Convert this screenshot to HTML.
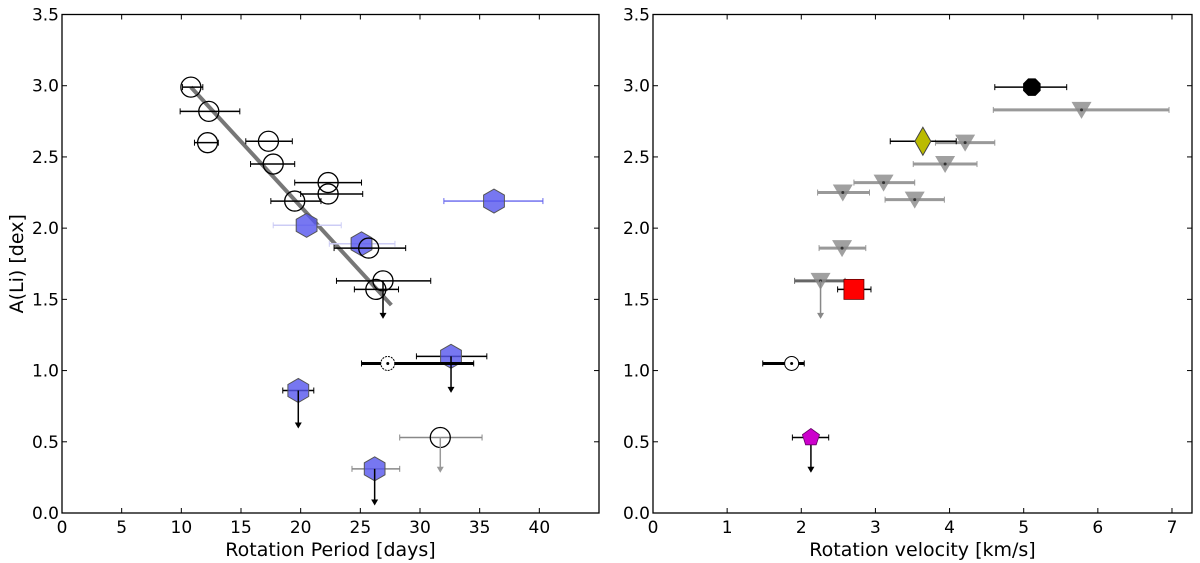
<!DOCTYPE html>
<html><head><meta charset="utf-8"><style>
body{margin:0;background:#fff;}
svg{display:block;font-family:"DejaVu Sans","Liberation Sans",sans-serif;}
</style></head><body>
<svg id="c" width="1200" height="563" viewBox="0 0 1200 563"></svg>
<script>
// Left panel data: open circles [period, ALi, xlo, xhi, limitTo]
const leftCircleP   = [10.8, 12.3, 12.2, 17.3, 17.7, 22.3, 22.3, 19.5, 25.7, 26.9, 26.3, 31.7];
const leftCircleA   = [2.99, 2.82, 2.60, 2.61, 2.45, 2.32, 2.24, 2.19, 1.86, 1.63, 1.57, 0.53];
const leftCircleLo  = [10.1, 9.9, 11.1, 15.4, 15.8, 19.5, 20.0, 17.5, 22.8, 23.0, 24.5, 28.3];
const leftCircleHi  = [11.8, 14.9, 13.1, 19.3, 19.5, 25.1, 25.2, 21.7, 28.8, 30.9, 28.2, 35.2];
const leftCircleLim = [null, null, null, null, null, null, null, null, null, 1.37, null, 0.29];
const leftHexP   = [36.2, 20.5, 25.1, 32.6, 19.8, 26.2];
const leftHexA   = [2.19, 2.02, 1.89, 1.10, 0.86, 0.31];
const leftHexLo  = [32.0, 17.7, 22.4, 29.7, 18.5, 24.3];
const leftHexHi  = [40.3, 23.4, 27.9, 35.6, 21.1, 28.3];
const leftHexLim = [null, null, null, 0.85, 0.60, 0.06];
const sunP = [27.3], sunA = [1.05], sunPLo = [25.1], sunPHi = [34.5];
const fitP = [10.8, 27.6], fitA = [2.99, 1.46];
const leftXTicks = [0,5,10,15,20,25,30,35,40];
const yTicks = [0,0.5,1,1.5,2,2.5,3,3.5];
// Right panel data
const triV  = [5.78, 4.21, 3.94, 3.11, 2.56, 3.53, 2.55, 2.26];
const triA  = [2.83, 2.60, 2.45, 2.32, 2.25, 2.20, 1.86, 1.63];
const triLo = [4.59, 3.81, 3.51, 2.71, 2.22, 3.13, 2.24, 1.91];
const triHi = [6.96, 4.61, 4.37, 3.53, 2.92, 3.93, 2.87, 2.59];
const triLim= [null,null,null,null,null,null,null,1.37];
const blackDot = [5.11, 2.99, 4.61, 5.58];
const diamond = [3.64, 2.61, 3.20, 4.09];
const square = [2.71, 1.57, 2.49, 2.94];
const sunV = [1.87, 1.05, 1.48, 2.04];
const pentagon = [2.13, 0.53, 1.88, 2.37, 0.29];
const rightXTicks = [0,1,2,3,4,5,6,7];

const svg = document.getElementById('c');
const NS = 'http://www.w3.org/2000/svg';
function el(tag, attrs, parent){const e=document.createElementNS(NS,tag);for(const k in attrs)e.setAttribute(k,attrs[k]);(parent||svg).appendChild(e);return e;}
const Y0=513, Y1=14.5;
function ys(v){return Y0-(v/3.5)*(Y0-Y1);}
function mkX(x0,x1,max){return v=>x0+(v/max)*(x1-x0);}
const xl = mkX(62,599,45);
const xr = mkX(653,1192,7.27);

function axes(x0,x1,xs,ticks,label,name,showY){
  const g=el('g',{});
   
  el('rect',{x:x0,y:Y1,width:x1-x0,height:Y0-Y1,fill:'none',stroke:'#000','stroke-width':1.3},g);
  ticks.forEach(t=>{const x=xs(t);
    el('line',{x1:x,x2:x,y1:Y0,y2:Y0-5,stroke:'#000'},g);
    el('line',{x1:x,x2:x,y1:Y1,y2:Y1+5,stroke:'#000'},g);
    const tx=el('text',{x:x,y:Y0+20,'font-size':17,'text-anchor':'middle'},g);tx.textContent=t;
    });
  yTicks.forEach(t=>{const y=ys(t);
    el('line',{x1:x0,x2:x0+5,y1:y,y2:y,stroke:'#000'},g);
    el('line',{x1:x1,x2:x1-5,y1:y,y2:y,stroke:'#000'},g);
    const tx=el('text',{x:x0-3,y:y+6,'font-size':17,'text-anchor':'end'},g);tx.textContent=t.toFixed(1);
    });
  const xt=el('text',{x:(x0+x1)/2,y:556,'font-size':19,'text-anchor':'middle'},g);xt.textContent=label;
  
  if(showY){const yt=el('text',{x:0,y:0,'font-size':19,'text-anchor':'middle',transform:`translate(23,${ys(1.75)}) rotate(-90)`},g);yt.textContent='A(Li) [dex]';
    }
}
function xerr(xs,lo,hi,y,col,w){
  const g=el('g',{});
  
  el('line',{x1:xs(lo),x2:xs(hi),y1:ys(y),y2:ys(y),stroke:col,'stroke-width':w},g);
  el('line',{x1:xs(lo),x2:xs(lo),y1:ys(y)-3,y2:ys(y)+3,stroke:col,'stroke-width':1},g);
  el('line',{x1:xs(hi),x2:xs(hi),y1:ys(y)-3,y2:ys(y)+3,stroke:col,'stroke-width':1},g);
}
function arrow(x,y,lim,col){
  const g=el('g',{});
  
  el('line',{x1:x,x2:x,y1:ys(y),y2:ys(lim)-4,stroke:col,'stroke-width':1.5},g);
  el('polygon',{points:`${x-3.5},${ys(lim)-5} ${x+3.5},${ys(lim)-5} ${x},${ys(lim)+1}`,fill:col},g);
}
function poly(cx,cy,r,n,rot){const p=[];for(let i=0;i<n;i++){const a=rot+i*2*Math.PI/n;p.push((cx+r*Math.cos(a)).toFixed(1)+','+(cy+r*Math.sin(a)).toFixed(1));}return p.join(' ');}

axes(62,599,xl,leftXTicks,'Rotation Period [days]','left-panel',true);
axes(653,1192,xr,rightXTicks,'Rotation velocity [km/s]','right-panel',false);

const fit=el('line',{x1:xl(fitP[0]),y1:ys(fitA[0]),x2:xl(fitP[1]),y2:ys(fitA[1]),stroke:'#777','stroke-width':4});

leftHexP.forEach((p,i)=>{
  const light = i===1||i===2;
  xerr(xl,leftHexLo[i],leftHexHi[i],leftHexA[i], i===0?'#6666ee':(light?'#ccccf5':(i===5?'#888':'#000')),i===0?1.3:1.5);
  const h=el('polygon',{points:poly(xl(p),ys(leftHexA[i]),12,6,Math.PI/6),fill:'#5555ee','fill-opacity':0.8,stroke:'#555','stroke-width':1});
  
  if(leftHexLim[i]!==null) arrow(xl(p),leftHexA[i],leftHexLim[i],'#000');
});
leftCircleP.forEach((p,i)=>{
  const grey = i===11;
  xerr(xl,leftCircleLo[i],leftCircleHi[i],leftCircleA[i],grey?'#888':'#000',1.5);
  const c=el('circle',{cx:xl(p),cy:ys(leftCircleA[i]),r:10,fill:'none',stroke:'#000','stroke-width':1.3});
  
  if(leftCircleLim[i]!==null) arrow(xl(p),leftCircleA[i],leftCircleLim[i],grey?'#999':'#000');
});
xerr(xl,sunPLo[0],sunPHi[0],sunA[0],'#000',3);
const s1=el('circle',{cx:xl(sunP[0]),cy:ys(sunA[0]),r:7,fill:'#fff',stroke:'#000','stroke-width':1,'stroke-dasharray':'2,1'});

el('circle',{cx:xl(sunP[0]),cy:ys(sunA[0]),r:1.5,fill:'#000'});

triV.forEach((v,i)=>{
  xerr(xr,triLo[i],triHi[i],triA[i],i===7?'#666':'#999',3);
  const x=xr(v),y=ys(triA[i]);
  const t=el('polygon',{points:`${x-10},${y-8} ${x+10},${y-8} ${x},${y+9}`,fill:'#888','fill-opacity':0.8});
  
  el('circle',{cx:x,cy:y,r:1.5,fill:'#333'});
  if(triLim[i]!==null) arrow(x,triA[i],triLim[i],'#888');
});
xerr(xr,blackDot[2],blackDot[3],blackDot[1],'#000',1.5);
const bd=el('polygon',{points:poly(xr(blackDot[0]),ys(blackDot[1]),9.5,8,Math.PI/8),fill:'#000'});

xerr(xr,diamond[2],diamond[3],diamond[1],'#000',1.5);
{const x=xr(diamond[0]),y=ys(diamond[1]);
const d=el('polygon',{points:`${x},${y-14} ${x+8},${y} ${x},${y+14} ${x-8},${y}`,fill:'#bbbb00',stroke:'#444','stroke-width':1});
}
xerr(xr,square[2],square[3],square[1],'#000',1.5);
{const x=xr(square[0]),y=ys(square[1]);
const q=el('rect',{x:x-10,y:y-10,width:20,height:20,fill:'#ff0000',stroke:'#600','stroke-width':0.8});
}
xerr(xr,sunV[2],sunV[3],sunV[1],'#000',3);
const s2=el('circle',{cx:xr(sunV[0]),cy:ys(sunV[1]),r:7,fill:'#fff',stroke:'#000','stroke-width':1});

el('circle',{cx:xr(sunV[0]),cy:ys(sunV[1]),r:1.5,fill:'#000'});
xerr(xr,pentagon[2],pentagon[3],pentagon[1],'#000',1.5);
arrow(xr(pentagon[0]),pentagon[1],pentagon[4],'#000');
const pg=el('polygon',{points:poly(xr(pentagon[0]),ys(pentagon[1]),9,5,-Math.PI/2),fill:'#cc00cc',stroke:'#606','stroke-width':0.8});

</script>
</body></html>
